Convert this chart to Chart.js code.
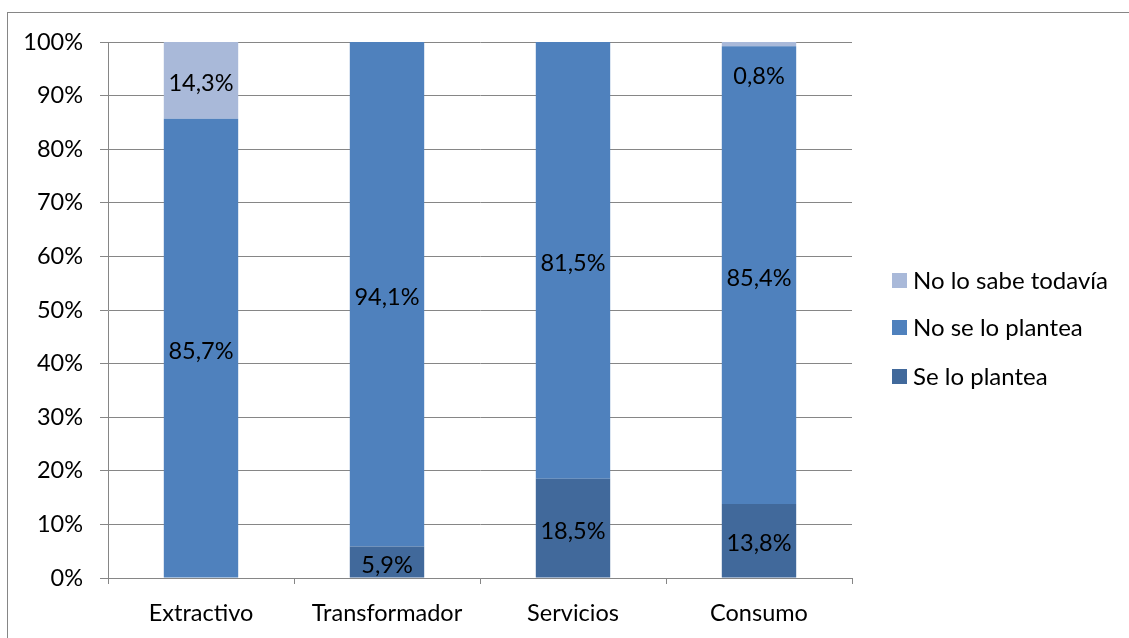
<!DOCTYPE html>
<html>
<head>
<meta charset="utf-8">
<script src="https://cdn.jsdelivr.net/npm/chart.js@4.4.1/dist/chart.umd.min.js"></script>
<style>
  html, body { margin: 0; padding: 0; background: #fff; }
  #wrap { position: relative; width: 1129px; height: 638px; overflow: hidden; }
  #frame { position: absolute; left: 7px; top: 12px; width: 1140px; height: 640px; border: 1px solid #868686; box-sizing: border-box; }
  canvas { position: absolute; left: 0; top: 0; }
</style>
</head>
<body>
<div id="wrap">
  <div id="frame"></div>
  <canvas id="c" width="1129" height="638"></canvas>
</div>
<script>
const categories = ['Extractivo', 'Transformador', 'Servicios', 'Consumo'];
const seLoPlantea = [0, 5.9, 18.5, 13.8];
const noSeLoPlantea = [85.7, 94.1, 81.5, 85.4];
const noLoSabe = [14.3, 0, 0, 0.8];
const seriesNames = ['Se lo plantea', 'No se lo plantea', 'No lo sabe todavía'];
const seriesColors = ['#41699B', '#4F81BD', '#A9B9D9'];
const yTicks = [0, 10, 20, 30, 40, 50, 60, 70, 80, 90, 100];

const FONT = 'Lato, "Open Sans", sans-serif';
const FS = 23.5;

const labelPlugin = {
  id: 'segLabels',
  afterDatasetsDraw(chart) {
    const ctx = chart.ctx;
    ctx.save();
    ctx.font = FS + 'px ' + FONT;
    ctx.fillStyle = '#000';
    ctx.textAlign = 'center';
    ctx.textBaseline = 'middle';
    const area = chart.chartArea;
    chart.data.datasets.forEach((ds, di) => {
      const meta = chart.getDatasetMeta(di);
      meta.data.forEach((bar, i) => {
        const v = ds.data[i];
        if (!v) return;
        const top = Math.min(bar.y, bar.base);
        const bot = Math.max(bar.y, bar.base);
        let y = (top + bot) / 2 + 3;
        if (y < area.top + 33 && bot - top < 30) y = area.top + 34;
        const txt = v.toFixed(1).replace('.', ',') + '%';
        ctx.fillText(txt, bar.x, y);
      });
    });
    ctx.restore();
  }
};

const legendPlugin = {
  id: 'customLegend',
  afterDraw(chart) {
    const ctx = chart.ctx;
    ctx.save();
    ctx.font = '24px ' + FONT;
    ctx.textBaseline = 'middle';
    ctx.textAlign = 'left';
    const order = [2, 1, 0];
    const ys = [281, 328, 377];
    order.forEach((si, k) => {
      ctx.fillStyle = seriesColors[si];
      ctx.fillRect(892, ys[k] - 8, 15, 15);
      ctx.fillStyle = '#000';
      ctx.fillText(seriesNames[si], 913, ys[k]);
    });
    ctx.restore();
  }
};

const datasets = [seLoPlantea, noSeLoPlantea, noLoSabe].map((d, i) => ({
  label: seriesNames[i],
  data: d,
  backgroundColor: seriesColors[i],
  borderWidth: 0,
  barPercentage: 0.4,
  categoryPercentage: 1.0
}));

new Chart(document.getElementById('c'), {
  type: 'bar',
  data: { labels: categories, datasets },
  options: {
    responsive: false,
    animation: false,
    devicePixelRatio: 1,
    layout: { padding: { left: 0, right: 277, top: 42, bottom: 0 } },
    plugins: { legend: { display: false }, tooltip: { enabled: false } },
    scales: {
      x: {
        stacked: true,
        grid: { display: true, drawOnChartArea: false, offset: true, tickLength: 6, color: '#868686' },
        border: { display: true, color: '#868686' },
        ticks: { color: '#000', font: { family: FONT, size: FS }, padding: 15 },
        afterFit(s) { s.height = 60; }
      },
      y: {
        stacked: true,
        min: 0, max: 100,
        afterBuildTicks(s) { s.ticks = yTicks.map(v => ({ value: v })); },
        grid: { color: '#868686', tickLength: 8 },
        border: { display: true, color: '#868686' },
        ticks: { color: '#000', font: { family: FONT, size: FS }, padding: 17, callback: v => v + '%' },
        afterFit(s) { s.width = 108; }
      }
    }
  },
  plugins: [labelPlugin, legendPlugin]
});
</script>
</body>
</html>
